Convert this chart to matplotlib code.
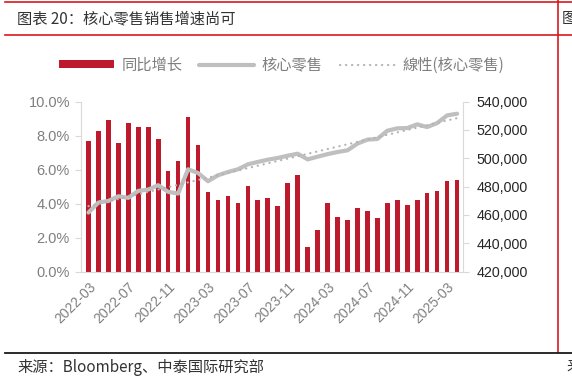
import numpy as np
import pandas as pd
import matplotlib
matplotlib.use('Agg')
import matplotlib.pyplot as plt
from matplotlib.patches import Patch
from matplotlib.lines import Line2D
from matplotlib.ticker import FuncFormatter

plt.rcParams['font.family'] = ['Liberation Sans', 'Noto Sans CJK SC', 'DejaVu Sans']

##### DATA #####
months = list(pd.period_range('2022-03', '2025-04', freq='M').strftime('%Y-%m'))
yoy = [7.67, 8.25, 8.94, 7.57, 8.75, 8.53, 8.49, 7.80, 5.92, 6.49, 9.08, 7.45,
       4.68, 4.20, 4.45, 4.04, 5.04, 4.22, 4.31, 3.84, 5.22, 5.69, 1.47, 2.43,
       4.03, 3.20, 3.04, 3.73, 3.57, 3.16, 4.06, 4.22, 3.90, 4.20, 4.61, 4.73,
       5.33, 5.37]  # 同比增长, %
core = [461700, 468800, 469900, 473200, 472100, 477000, 477900, 481000, 476300,
        475100, 492200, 489600, 483800, 488000, 490300, 492200, 495700, 497400,
        499000, 500200, 501800, 503200, 499200, 501100, 502900, 504400, 505600,
        510300, 513100, 513600, 519400, 521100, 521300, 523900, 522000, 524800,
        530200, 531400]  # 核心零售
trend_ends = [466200, 528300]  # 線性(核心零售), first and last month
tick_labels = ['2022-03', '2022-07', '2022-11', '2023-03', '2023-07', '2023-11',
               '2024-03', '2024-07', '2024-11', '2025-03']
################

red = '#BE1A2E'
gray = '#BFBFBF'
axis_col = '#D9D9D9'
txt_gray = '#7F7F7F'

fig = plt.figure(figsize=(5.72, 3.86), dpi=100)
ax = fig.add_axes([0.1416, 0.2961, 0.8086 - 0.1416, 0.737 - 0.2961])
ax2 = ax.twinx()

x = np.arange(len(months))
ax.bar(x, np.array(yoy) / 100, width=0.47, color=red, zorder=2)
ax2.plot(x, core, color=gray, lw=3.0, solid_capstyle='round', zorder=3)
ax2.plot([x[0], x[-1]], trend_ends, color='#B4B4B4', lw=1.6,
         linestyle=(0, (0.1, 2.6)), dash_capstyle='round', zorder=4)

ax.set_xlim(-0.75, len(months) - 0.45)
ax.set_ylim(0, 0.10)
ax2.set_ylim(420000, 540000)
ax.set_yticks(np.arange(0, 0.101, 0.02))
ax.yaxis.set_major_formatter(FuncFormatter(lambda v, p: f'{v*100:.1f}%'))
ax2.set_yticks(np.arange(420000, 540001, 20000))
ax2.yaxis.set_major_formatter(FuncFormatter(lambda v, p: f'{int(v):,}'))

pos = [months.index(t) for t in tick_labels]
ax.set_xticks(pos)
ax.set_xticklabels(tick_labels, rotation=45, ha='right', rotation_mode='anchor')

for a in (ax, ax2):
    for s in a.spines.values():
        s.set_color(axis_col)
    a.spines['top'].set_visible(False)
ax.spines['right'].set_visible(False)
ax2.spines['left'].set_visible(False)
ax2.spines['bottom'].set_visible(False)

ax.tick_params(axis='x', length=0, pad=6, labelsize=10, labelcolor=txt_gray)
ax.tick_params(axis='y', length=4, color=axis_col, labelsize=10.5, labelcolor=txt_gray, pad=4)
ax2.tick_params(axis='y', length=4, color=axis_col, labelsize=10.3, labelcolor='#262626', pad=6)

# legend
handles = [Patch(facecolor=red, edgecolor='none'),
           Line2D([], [], color=gray, lw=3.0, solid_capstyle='round'),
           Line2D([], [], color='#B4B4B4', lw=1.6, linestyle=(0, (0.1, 2.6)), dash_capstyle='round')]
leg = fig.legend(handles, ['同比增长', '核心零售', '線性(核心零售)'], loc='center',
                 bbox_to_anchor=(0.492, 0.832), ncol=3, frameon=False,
                 fontsize=11, handlelength=3.6, handleheight=0.45, columnspacing=1.1,
                 handletextpad=0.5)
for t in leg.get_texts():
    t.set_color(txt_gray)
    t.set_family(['Noto Sans CJK SC', 'DejaVu Sans'])

# frame and captions
cjk = ['Noto Sans CJK SC', 'DejaVu Sans']
fig.add_artist(Line2D([5/572, 1], [1 - 1.5/386] * 2, color='#D7191C', lw=1.2))
fig.add_artist(Line2D([5/572, 1], [1 - 35/386] * 2, color='#D7191C', lw=1.2))
fig.add_artist(Line2D([557.5/572] * 2, [1 - 352/386, 1], color='#D7191C', lw=1.2))
fig.add_artist(Line2D([5/572, 1], [1 - 352.5/386] * 2, color='#1A1A1A', lw=1.3))
fig.text(17/572, 1 - 18.5/386, '图表 20：核心零售销售增速尚可', fontsize=11, color='#333333',
         va='center', ha='left', family=cjk)
fig.text(562/572, 1 - 18.5/386, '图', fontsize=11, color='#333333', va='center', ha='left', family=cjk)
fig.text(17/572, 1 - 367/386, '来源：Bloomberg、中泰国际研究部', fontsize=11, color='#333333',
         va='center', ha='left', family=cjk)
fig.text(566/572, 1 - 367/386, '来', fontsize=11, color='#333333', va='center', ha='left', family=cjk)

fig.savefig('out.png', dpi=100)
